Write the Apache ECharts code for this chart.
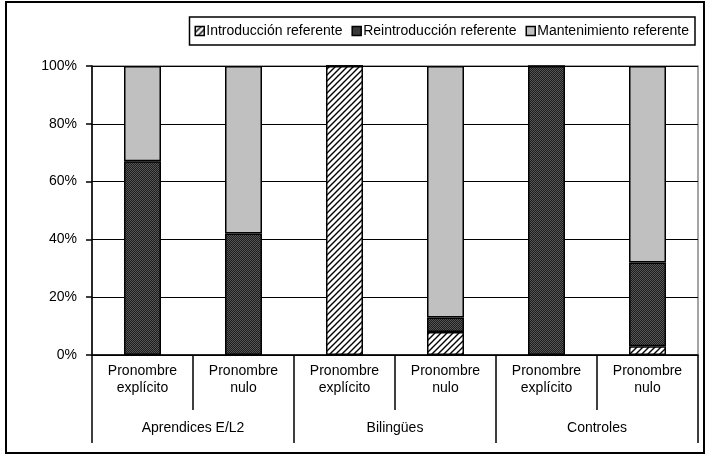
<!DOCTYPE html>
<html>
<head>
<meta charset="utf-8">
<script src="https://cdn.jsdelivr.net/npm/echarts@6/dist/echarts.min.js"></script>
<style>
  html, body { margin: 0; padding: 0; background: #fff; }
  #frame { position: absolute; left: 5px; top: 1px; width: 696px; height: 449px; border: 2px solid #000; }
  #chart1 { position: absolute; left: 0; top: 0; width: 706px; height: 455px; }
</style>
</head>
<body>
<div id="frame"></div>
<div id="chart1"></div>
<script>
// categories and values (percent)
var categories = ['Pronombre\nexplícito', 'Pronombre\nnulo', 'Pronombre\nexplícito', 'Pronombre\nnulo', 'Pronombre\nexplícito', 'Pronombre\nnulo'];
var groups = ['Aprendices E/L2', 'Bilingües', 'Controles'];
var seriesNames = ['Introducción referente', 'Reintroducción referente', 'Mantenimiento referente'];
var introduccion = [0, 0, 100, 8, 0, 3];
var reintroduccion = [67, 42, 0, 5, 100, 29];
var mantenimiento = [33, 58, 0, 87, 0, 68];
var yTicks = [0, 20, 40, 60, 80, 100];

function hatchPattern() {
    var c = document.createElement('canvas');
    c.width = 6; c.height = 6;
    var ctx = c.getContext('2d');
    ctx.fillStyle = '#fff';
    ctx.fillRect(0, 0, 6, 6);
    ctx.strokeStyle = '#000';
    ctx.lineWidth = 1.4;
    ctx.beginPath();
    ctx.moveTo(0, 6); ctx.lineTo(6, 0);
    ctx.moveTo(-3, 3); ctx.lineTo(3, -3);
    ctx.moveTo(3, 9); ctx.lineTo(9, 3);
    ctx.stroke();
    return {image: c, repeat: 'repeat'};
}

function dotPattern() {
    var c = document.createElement('canvas');
    c.width = 2; c.height = 2;
    var ctx = c.getContext('2d');
    ctx.fillStyle = '#1e1e1e';
    ctx.fillRect(0, 0, 2, 2);
    ctx.fillStyle = '#555';
    ctx.fillRect(0, 0, 1, 1);
    ctx.fillRect(1, 1, 1, 1);
    return {image: c, repeat: 'repeat'};
}

var myChart = echarts.init(document.getElementById('chart1'));
var fills = [hatchPattern(), dotPattern(), '#c0c0c0'];
var dataSets = [introduccion, reintroduccion, mantenimiento];

var series = [];
for (var i = 0; i < 3; i++) {
    series.push({
        name: seriesNames[i],
        type: 'bar',
        stack: 'total',
        barWidth: 37,
        data: dataSets[i],
        itemStyle: {color: fills[i], borderColor: '#000', borderWidth: 1.5},
        emphasis: {disabled: true}
    });
}

var option = {
    animation: false,
    textStyle: {fontFamily: 'Liberation Sans', color: '#000'},
    legend: {
        right: 11, top: 17,
        itemWidth: 9, itemHeight: 9, itemGap: 9,
        padding: [7, 6, 7, 5],
        backgroundColor: '#fff',
        borderColor: '#000', borderWidth: 1.5, borderRadius: 0,
        icon: 'rect',
        textStyle: {fontSize: 14, color: '#000', padding: [0, 0, 0, -3]},
        itemStyle: {borderColor: '#000', borderWidth: 1.5},
        data: seriesNames
    },
    grid: {left: 92, right: 8, top: 66, bottom: 100, show: true, borderColor: '#888', borderWidth: 1.5},
    xAxis: [
        {
            type: 'category',
            data: categories,
            position: 'bottom',
            axisLine: {lineStyle: {color: '#000', width: 1.5}},
            axisTick: {show: true, interval: 0, length: 55, lineStyle: {color: '#000', width: 1.5}},
            axisLabel: {interval: 0, fontSize: 14, color: '#000', lineHeight: 17, margin: 8}
        },
        {
            type: 'category',
            data: groups,
            position: 'bottom',
            axisLine: {show: false},
            axisTick: {show: true, interval: 0, length: 88, lineStyle: {color: '#000', width: 1.5}},
            axisLabel: {interval: 0, fontSize: 14, color: '#000', margin: 66}
        }
    ],
    yAxis: {
        type: 'value',
        min: 0, max: 100, interval: 20,
        axisLine: {show: true, lineStyle: {color: '#000', width: 1.5}},
        axisTick: {show: true, length: 6, lineStyle: {color: '#000', width: 1.5}},
        splitLine: {lineStyle: {color: '#000', width: 1}},
        axisLabel: {
            fontSize: 14, color: '#000', margin: 15,
            formatter: function (v) { return yTicks.indexOf(v) >= 0 ? v + '%' : ''; }
        }
    },
    series: series
};
myChart.setOption(option);
</script>
</body>
</html>
